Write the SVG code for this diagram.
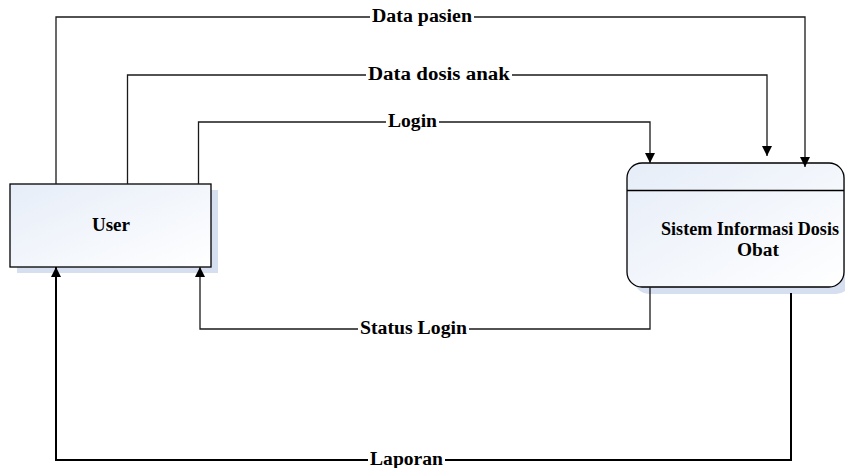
<svg xmlns="http://www.w3.org/2000/svg" width="845" height="468" viewBox="0 0 845 468">
<style>
.lbl{font-family:"Liberation Serif","Times New Roman",serif;font-weight:bold;font-size:18px;fill:#000;text-anchor:middle}
.ln{fill:none;stroke:#1a1a1a;stroke-width:1.3}
.thick{fill:none;stroke:#000;stroke-width:2}
.bg{fill:#fff}
</style>
<defs>
<linearGradient id="g" x1="0" y1="0" x2="1" y2="1">
<stop offset="0" stop-color="#e6edf8"/>
<stop offset="1" stop-color="#ffffff"/>
</linearGradient>
<marker id="ah" viewBox="0 0 10 10" refX="10" refY="5" markerWidth="10" markerHeight="10" markerUnits="userSpaceOnUse" orient="auto">
<path d="M0,0 L10,5 L0,10 Z" fill="#000"/>
</marker>
</defs>
<g id="user">
<rect x="17" y="190" width="201" height="83" fill="#d5dff0"/>
<rect x="10" y="184" width="201" height="83" fill="url(#g)" stroke="#000" stroke-width="1.3"/>
<text class="lbl" x="111" y="231" textLength="38" lengthAdjust="spacingAndGlyphs">User</text>
</g>
<g id="sistem">
<rect x="634" y="170" width="217" height="124" rx="15" fill="#d5dff0"/>
<rect x="627" y="163" width="217" height="124" rx="15" fill="url(#g)" stroke="#000" stroke-width="1.3"/>
<line x1="627" y1="190.5" x2="844" y2="190.5" stroke="#000" stroke-width="1.3"/>
<text class="lbl" x="750" y="235" textLength="178" lengthAdjust="spacingAndGlyphs">Sistem Informasi Dosis</text>
<text class="lbl" x="758" y="256" textLength="42" lengthAdjust="spacingAndGlyphs">Obat</text>
</g>
<g id="connectors">
<path class="ln" d="M56,184 V17 H805 V167" marker-end="url(#ah)"/>
<path class="ln" d="M127.5,184 V75 H767 V156" marker-end="url(#ah)"/>
<path class="ln" d="M198.5,184 V122 H650 V163" marker-end="url(#ah)"/>
<path class="ln" d="M650,287 V329 H200 V267" marker-end="url(#ah)"/>
<path class="thick" d="M791,293 V460 H56 V267" marker-end="url(#ah)"/>
<rect class="bg" x="370" y="8" width="104" height="18"/>
<text class="lbl" x="422" y="22" textLength="100" lengthAdjust="spacingAndGlyphs">Data pasien</text>
<rect class="bg" x="366" y="66" width="146" height="18"/>
<text class="lbl" x="439" y="80" textLength="142" lengthAdjust="spacingAndGlyphs">Data dosis anak</text>
<rect class="bg" x="386" y="113" width="53" height="18"/>
<text class="lbl" x="412.5" y="127" textLength="49" lengthAdjust="spacingAndGlyphs">Login</text>
<rect class="bg" x="358" y="320" width="111" height="18"/>
<text class="lbl" x="413.5" y="334" textLength="107" lengthAdjust="spacingAndGlyphs">Status Login</text>
<rect class="bg" x="368" y="451" width="77" height="17"/>
<text class="lbl" x="406.5" y="465" textLength="73" lengthAdjust="spacingAndGlyphs">Laporan</text>
</g>
</svg>
